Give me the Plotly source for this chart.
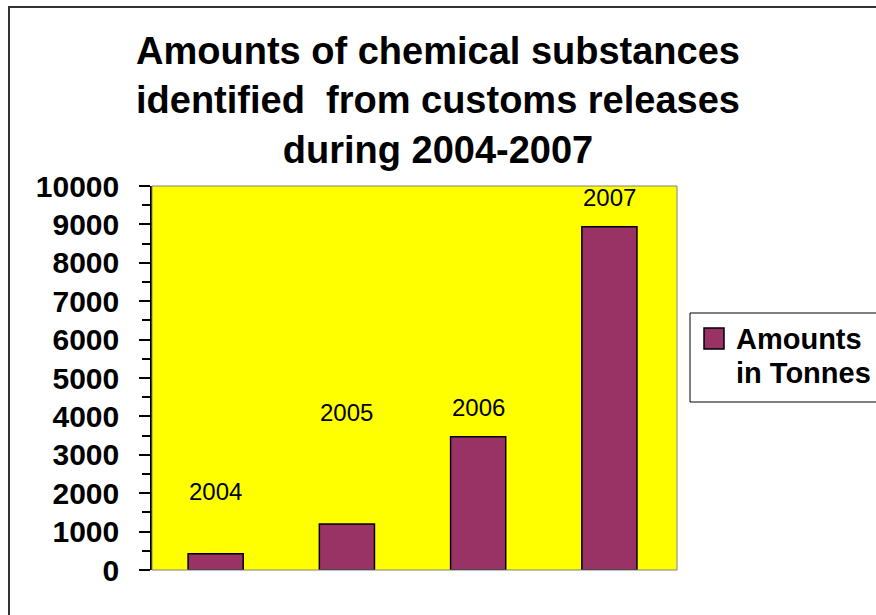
import plotly.graph_objects as go

# Data
years = ["2004", "2005", "2006", "2007"]
amounts = [420, 1200, 3470, 8940]          # tonnes
label_heights = [2040, 4090, 4220, 9690]   # where each year label sits on the value axis
series_name = "Amounts in Tonnes"
y_ticks = [0, 1000, 2000, 3000, 4000, 5000, 6000, 7000, 8000, 9000, 10000]

W, H = 876, 615
# plot area in pixels
PL, PR, PT, PB = 152, 677, 186, 570


def px_x(p):
    return (p - PL) / (PR - PL)


def px_y(p):
    return (PB - p) / (PB - PT)


BAR_COLOR = "#993366"
FONT = "Liberation Sans, Arial, sans-serif"

fig = go.Figure()
fig.add_trace(go.Bar(
    x=years,
    y=amounts,
    name=series_name,
    width=0.42,
    marker=dict(color=BAR_COLOR, line=dict(color="#000000", width=1.5)),
    showlegend=False,
))

# year labels above the bars (category index positions)
for i, (yr, h) in enumerate(zip(years, label_heights)):
    fig.add_annotation(
        x=i, y=h, xref="x", yref="y", text=yr, showarrow=False,
        font=dict(family=FONT, size=24, color="#000000"),
        xanchor="center", yanchor="middle",
    )

shapes = [
    # outer chart frame
    dict(type="rect", xref="paper", yref="paper",
         x0=px_x(9), x1=px_x(890), y0=px_y(630), y1=px_y(7),
         line=dict(color="#333333", width=2), fillcolor="rgba(0,0,0,0)", layer="below"),
    # plot area border
    dict(type="rect", xref="paper", yref="paper", x0=0, x1=1, y0=0, y1=1,
         line=dict(color="#808080", width=1), fillcolor="rgba(0,0,0,0)"),
    # legend box
    dict(type="rect", xref="paper", yref="paper",
         x0=px_x(690), x1=px_x(900), y0=px_y(402), y1=px_y(313),
         line=dict(color="#000000", width=1), fillcolor="#ffffff"),
    # legend swatch
    dict(type="rect", xref="paper", yref="paper",
         x0=px_x(704), x1=px_x(724), y0=px_y(349), y1=px_y(328),
         line=dict(color="#000000", width=1.5), fillcolor=BAR_COLOR),
]

# legend text, two lines with tight spacing
name_lines = ["Amounts", "in Tonnes"]
for i, line in enumerate(name_lines):
    fig.add_annotation(
        x=px_x(734), y=px_y(338.5 + 34 * i), xref="paper", yref="paper",
        text="<b>%s</b>" % line, showarrow=False,
        font=dict(family=FONT, size=29, color="#000000"),
        xanchor="left", yanchor="middle", height=33, valign="middle",
    )

fig.update_layout(
    width=W, height=H,
    margin=dict(l=PL, r=W - PR, t=PT, b=H - PB, pad=0),
    paper_bgcolor="#ffffff",
    plot_bgcolor="#ffff00",
    shapes=shapes,
    bargap=0.58,
    title=dict(
        text="<b>Amounts of chemical substances<br>identified\u00a0 from customs releases<br>during 2004-2007</b>",
        x=438 / W, xanchor="center", xref="container",
        y=1 - 64 / H, yanchor="top", yref="container",
        font=dict(family=FONT, size=38, color="#000000"),
    ),
    xaxis=dict(
        type="category",
        range=[-0.485, 3.515],
        showticklabels=False,
        ticks="",
        showgrid=False,
        zeroline=False,
        showline=False,
    ),
    yaxis=dict(
        range=[0, 10000],
        tickvals=y_ticks,
        ticktext=[str(v) for v in y_ticks],
        ticks="outside",
        ticklen=11,
        tickwidth=1.5,
        tickcolor="#000000",
        ticklabelstandoff=14,
        tickfont=dict(family=FONT, size=30, color="#000000", weight="bold"),
        minor=dict(dtick=500, ticks="outside", ticklen=8, tickwidth=1.5, tickcolor="#000000", showgrid=False),
        showgrid=False,
        zeroline=False,
        showline=True,
        linecolor="#000000",
        linewidth=1.5,
    ),
)

fig.write_html("out.html")
